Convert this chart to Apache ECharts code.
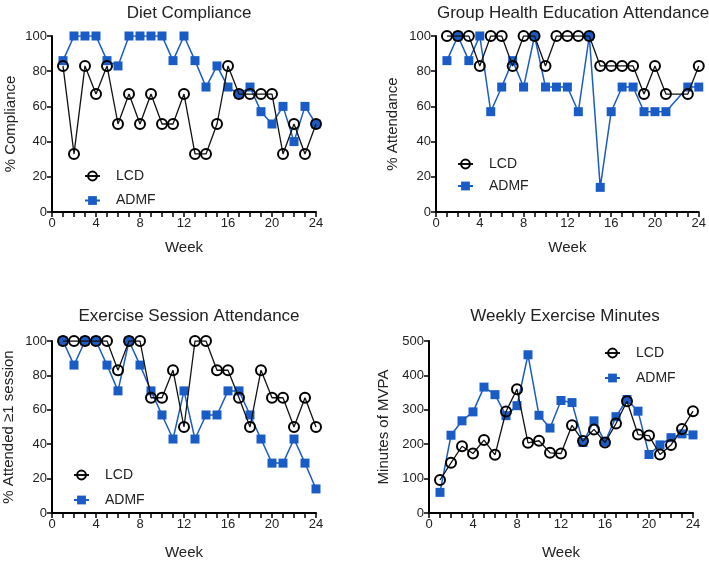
<!DOCTYPE html>
<html>
<head>
<meta charset="utf-8">
<script src="https://cdn.jsdelivr.net/npm/echarts@6/dist/echarts.min.js"></script>
<style>
html,body{margin:0;padding:0;background:#fff;}
#chart{width:709px;height:561px;}
</style>
</head>
<body>
<div id="chart"></div>
<script>
// ---- Data ----
const weeks = [1,2,3,4,5,6,7,8,9,10,11,12,13,14,15,16,17,18,19,20,21,22,23,24];
const xTicks = [0,4,8,12,16,20,24];
const seriesNames = ['LCD','ADMF'];
const titles = ['Diet Compliance','Group Health Education Attendance','Exercise Session Attendance','Weekly Exercise Minutes'];
const yNames = ['% Compliance','% Attendance','% Attended \u22651 session','Minutes of MVPA'];

const dietLCD  = [83,33,83,67,83,50,67,50,67,50,50,67,33,33,50,83,67,67,67,67,33,50,33,50];
const dietADMF = [86,100,100,100,86,83,100,100,100,100,86,100,86,71,83,71,67,71,57,50,60,40,60,50];

const groupLCD  = [100,100,100,83,100,100,83,100,100,83,100,100,100,100,83,83,83,83,67,83,67,null,67,83];
const groupADMF = [86,100,86,100,57,71,86,71,100,71,71,71,57,100,14,57,71,71,57,57,57,null,71,71];

const exerLCD  = [100,100,100,100,100,83,100,100,67,67,83,50,100,100,83,83,67,50,83,67,67,50,67,50];
const exerADMF = [100,86,100,100,86,71,100,86,71,57,43,71,43,57,57,71,71,57,43,29,29,43,29,14];

const minLCD  = [96,146,194,173,212,169,295,360,204,210,175,173,255,209,243,205,260,325,228,225,170,198,244,296];
const minADMF = [60,226,268,294,366,344,283,312,460,284,247,327,321,205,268,207,280,330,296,170,198,219,230,227];

// ---- Layout / style ----
const BLUE = '#1a5cc6';
const FONT = 'Liberation Sans, Arial, sans-serif';
const panels = [
  {lcd: dietLCD,  admf: dietADMF,  max:100, step:20,  grid:{left:52, width:264, top:36, height:176},
   title:{x:184, y:0}, legend:{left:84, top:169, gap:10.5}, nameGap:34, xNameGap:28},
  {lcd: groupLCD, admf: groupADMF, max:100, step:20,  grid:{left:436, width:265, top:36, height:176},
   title:{x:568, y:0}, legend:{left:457, top:157, gap:8}, nameGap:36, xNameGap:28},
  {lcd: exerLCD,  admf: exerADMF,  max:100, step:20,  grid:{left:52, width:264, top:341, height:176},
   title:{x:184, y:303}, legend:{left:73, top:468, gap:11}, nameGap:36, xNameGap:32},
  {lcd: minLCD,   admf: minADMF,   max:500, step:100, grid:{left:429, width:264, top:341, height:176},
   title:{x:560, y:303}, legend:{left:604, top:346, gap:11}, nameGap:38, xNameGap:32}
];

const axisLine = {show:true, lineStyle:{color:'#000', width:2}};
const axisTick = {show:true, inside:false, length:5, lineStyle:{color:'#000', width:1.5}};
const labelStyle = {color:'#222', fontSize:13, fontFamily:FONT, margin:5};

const option = {
  animation:false,
  backgroundColor:'#fff',
  title: [], grid: [], xAxis: [], yAxis: [], legend: [], series: []
};

panels.forEach((p, i) => {
  const suffix = '\u200b'.repeat(i);
  option.title.push({
    text: titles[i], left: p.title.x, top: p.title.y, textAlign:'center',
    textStyle:{fontSize:17, fontWeight:'normal', color:'#222', fontFamily:FONT}
  });
  option.grid.push(Object.assign({containLabel:false}, p.grid));
  option.xAxis.push({
    gridIndex:i, type:'value', min:0, max:24, interval:1,
    name:'Week', nameLocation:'middle', nameGap:p.xNameGap,
    nameTextStyle:{fontSize:15, color:'#222', fontFamily:FONT},
    axisLine, axisTick,
    axisLabel: Object.assign({}, labelStyle, {formatter: v => xTicks.includes(v) ? String(v) : ''}),
    splitLine:{show:false}
  });
  option.yAxis.push({
    gridIndex:i, type:'value', min:0, max:p.max, interval:p.step,
    name:yNames[i], nameLocation:'middle', nameGap:p.nameGap, nameRotate:90,
    nameTextStyle:{fontSize:15, color:'#222', fontFamily:FONT},
    axisLine, axisTick, axisLabel: labelStyle, splitLine:{show:false}
  });
  option.legend.push({
    orient:'vertical', left:p.legend.left, top:p.legend.top, padding:0,
    itemGap:p.legend.gap, itemWidth:15, itemHeight:11,
    data:[{name: seriesNames[0] + suffix}, {name: seriesNames[1] + suffix}],
    textStyle:{fontSize:14, color:'#222', fontFamily:FONT, padding:[0,0,0,11]}
  });
  option.series.push({
    name: seriesNames[1] + suffix, type:'line', xAxisIndex:i, yAxisIndex:i,
    data: weeks.map((w, k) => [w, p.admf[k]]),
    connectNulls:true, symbol:'rect', symbolSize:9, z:2,
    lineStyle:{color:BLUE, width:1.5},
    itemStyle:{color:BLUE, borderWidth:0}
  });
  option.series.push({
    name: seriesNames[0] + suffix, type:'line', xAxisIndex:i, yAxisIndex:i,
    data: weeks.map((w, k) => [w, p.lcd[k]]),
    connectNulls:true, symbol:'circle', symbolSize:10, z:3,
    lineStyle:{color:'#111', width:1.3},
    itemStyle:{color:'rgba(255,255,255,0)', borderColor:'#000', borderWidth:2}
  });
});

const chart = echarts.init(document.getElementById('chart'), null, {renderer:'canvas'});
chart.setOption(option);
</script>
</body>
</html>
